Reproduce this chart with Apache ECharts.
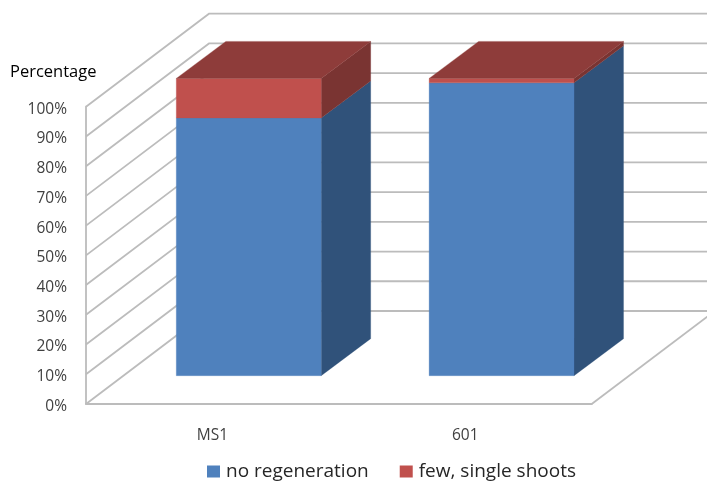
<!DOCTYPE html>
<html>
<head>
<meta charset="utf-8">
<style>html,body{margin:0;padding:0;background:#fff}#c{width:707px;height:481px}</style>
<script src="https://cdn.jsdelivr.net/npm/echarts@6/dist/echarts.min.js"></script>
</head>
<body>
<div id="c"></div>
<script>
const categories = ['MS1', '601'];
const noRegeneration = [86.7, 98.5];
const fewShoots = [13.3, 1.5];
const percentTicks = [0, 10, 20, 30, 40, 50, 60, 70, 80, 90, 100];

const FONT = '"Open Sans", sans-serif';
const GRID_COLOR = '#bcbcbc';
const WALL = { dx: 123, dy: -93 };
const BAR_FRONT = { dx: 36.3, dy: -28.3 };
const BAR_DEPTH = { dx: 49.5, dy: -37 };
const BAR_RATIO = 0.573;

const blueShades = { front: '#4f81bd', side: '#30527a', top: '#3d658f' };
const redShades = { front: '#c0504d', side: '#7a3432', top: '#8e3c3a' };

function rows(values, bases) {
  return values.map((v, i) => [i, bases[i], bases[i] + v]);
}

function poly(points, fill) {
  return { type: 'polygon', shape: { points }, style: { fill, stroke: fill, lineWidth: 0.3 } };
}

function barRenderer(shades, drawTop) {
  return function (params, api) {
    const w = api.size([1, 0])[0] * BAR_RATIO;
    const lo = api.coord([api.value(0), api.value(1)]);
    const hi = api.coord([api.value(0), api.value(2)]);
    const x0 = lo[0] + BAR_FRONT.dx - w / 2;
    const x1 = x0 + w;
    const yb = lo[1] + BAR_FRONT.dy;
    const yt = hi[1] + BAR_FRONT.dy;
    const d = BAR_DEPTH;
    const children = [
      poly([[x1, yb], [x1 + d.dx, yb + d.dy], [x1 + d.dx, yt + d.dy], [x1, yt]], shades.side),
      poly([[x0, yb], [x1, yb], [x1, yt], [x0, yt]], shades.front)
    ];
    if (drawTop) {
      children.push(poly([[x0, yt], [x1, yt], [x1 + d.dx, yt + d.dy], [x0 + d.dx, yt + d.dy]], shades.top));
    }
    return { type: 'group', children };
  };
}

function wallRenderer(params, api) {
  const v = api.value(0);
  const p = api.coord([0, v]);
  const rect = params.coordSys;
  const left = rect.x;
  const right = rect.x + rect.width;
  const y = p[1];
  const style = { stroke: GRID_COLOR, lineWidth: 1.8, fill: null };
  const children = [{
    type: 'polyline',
    shape: { points: [[left, y], [left + WALL.dx, y + WALL.dy], [right + WALL.dx, y + WALL.dy]] },
    style
  }];
  if (v === 0) {
    children.push({
      type: 'line',
      shape: { x1: right, y1: y, x2: right + WALL.dx, y2: y + WALL.dy },
      style
    });
  }
  return { type: 'group', children };
}

const chart = echarts.init(document.getElementById('c'), null, { renderer: 'canvas' });
chart.setOption({
  animation: false,
  backgroundColor: '#ffffff',
  title: {
    text: 'Percentage', left: 10, top: 64, padding: 0,
    textStyle: { fontFamily: FONT, fontSize: 16.5, fontWeight: 'normal', color: '#000000' }
  },
  legend: {
    data: ['no regeneration', 'few, single shoots'],
    left: 207, top: 462, padding: 0,
    itemWidth: 13, itemHeight: 12, itemGap: 31,
    icon: 'rect',
    textStyle: { fontFamily: FONT, fontSize: 19, color: '#262626', padding: [0, 0, 0, 1] }
  },
  grid: { left: 86, right: 115.3, top: 106.7, bottom: 77 },
  xAxis: {
    type: 'category', data: categories,
    axisLine: { show: true, lineStyle: { color: GRID_COLOR, width: 1.8 } },
    axisTick: { show: false },
    axisLabel: { margin: 24, fontFamily: FONT, fontSize: 15.5, color: '#404040' }
  },
  yAxis: {
    type: 'value', min: 0, max: 100, interval: 10,
    axisLine: { show: true, lineStyle: { color: GRID_COLOR, width: 1.8 } },
    axisTick: { show: false },
    splitLine: { show: false },
    axisLabel: { margin: 19, formatter: '{value}%', fontFamily: FONT, fontSize: 15.5, color: '#404040', verticalAlign: 'top', lineHeight: 5 }
  },
  series: [
    {
      name: 'walls', type: 'custom', z: 1, silent: true,
      renderItem: wallRenderer,
      data: percentTicks.map(v => [v]),
      encode: { y: 0 }
    },
    {
      name: 'no regeneration', type: 'custom', z: 3,
      itemStyle: { color: blueShades.front },
      renderItem: barRenderer(blueShades, false),
      data: rows(noRegeneration, categories.map(() => 0)),
      encode: { x: 0, y: [1, 2] }
    },
    {
      name: 'few, single shoots', type: 'custom', z: 4,
      itemStyle: { color: redShades.front },
      renderItem: barRenderer(redShades, true),
      data: rows(fewShoots, noRegeneration),
      encode: { x: 0, y: [1, 2] }
    }
  ]
});
</script>
</body>
</html>
